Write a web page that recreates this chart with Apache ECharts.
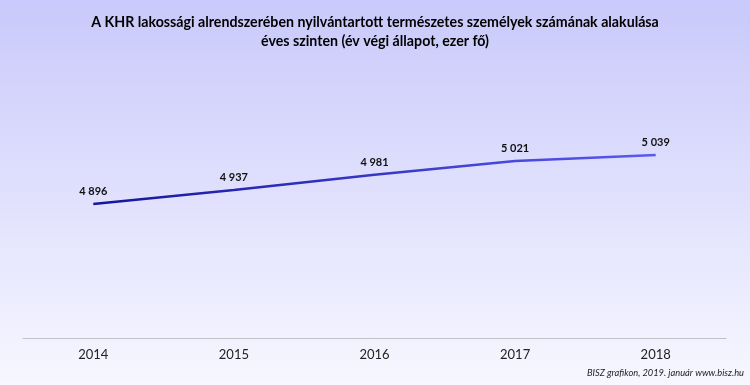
<!DOCTYPE html>
<html>
<head>
<meta charset="utf-8">
<script src="https://cdn.jsdelivr.net/npm/echarts@6/dist/echarts.min.js"></script>
<style>html,body{margin:0;padding:0;}#c{width:750px;height:385px;}</style>
</head>
<body>
<div id="c"></div>
<script>
var categories = ['2014', '2015', '2016', '2017', '2018'];
var values = [4896, 4937, 4981, 5021, 5039];
var titleLines = ['A KHR lakossági alrendszerében nyilvántartott természetes személyek számának alakulása', 'éves szinten (év végi állapot, ezer fő)'];
var footer = 'BISZ grafikon, 2019. január www.bisz.hu';

function fmt(v) { return String(v).replace(/\B(?=(\d{3})+(?!\d))/g, ' '); }

var chart = echarts.init(document.getElementById('c'));
chart.setOption({
  backgroundColor: new echarts.graphic.LinearGradient(0, 0, 0, 1, [
    { offset: 0, color: '#c9c9fb' },
    { offset: 1, color: '#f7f7ff' }
  ]),
  animation: false,
  title: {
    text: titleLines.join('\n'),
    left: 'center',
    top: 8,
    textStyle: { fontFamily: 'Lato, "Open Sans", sans-serif', fontWeight: 'bold', fontSize: 14.2, color: '#000', lineHeight: 19 }
  },
  graphic: [{
    type: 'text',
    right: 6,
    top: 368,
    style: { text: footer, fontFamily: 'Lato, "Open Sans", sans-serif', fontStyle: 'italic', fontSize: 9.3, fill: '#222' }
  }],
  grid: { left: 23, right: 24, top: 98, bottom: 47 },
  xAxis: {
    type: 'category',
    data: categories,
    boundaryGap: true,
    axisLine: { lineStyle: { color: '#c0c0c8', width: 1 } },
    axisTick: { show: false },
    axisLabel: { margin: 10, fontSize: 13, color: '#222', fontFamily: 'Lato, "Open Sans", sans-serif' }
  },
  yAxis: {
    type: 'value',
    min: 4505,
    max: 5205,
    show: false,
    splitLine: { show: false }
  },
  series: [{
    type: 'line',
    data: values,
    symbol: 'circle',
    symbolSize: 0,
    showSymbol: true,
    itemStyle: { color: 'rgba(0,0,0,0)' },
    lineStyle: {
      width: 2.5,
      color: new echarts.graphic.LinearGradient(0, 0, 1, 0, [
        { offset: 0, color: '#15159a' },
        { offset: 1, color: '#5a5af2' }
      ])
    },
    label: {
      show: true,
      position: 'top',
      distance: 7,
      formatter: function (p) { return fmt(p.value); },
      fontFamily: 'Lato, "Open Sans", sans-serif',
      fontWeight: 'bold',
      fontSize: 11,
      color: '#111'
    }
  }]
});
</script>
</body>
</html>
